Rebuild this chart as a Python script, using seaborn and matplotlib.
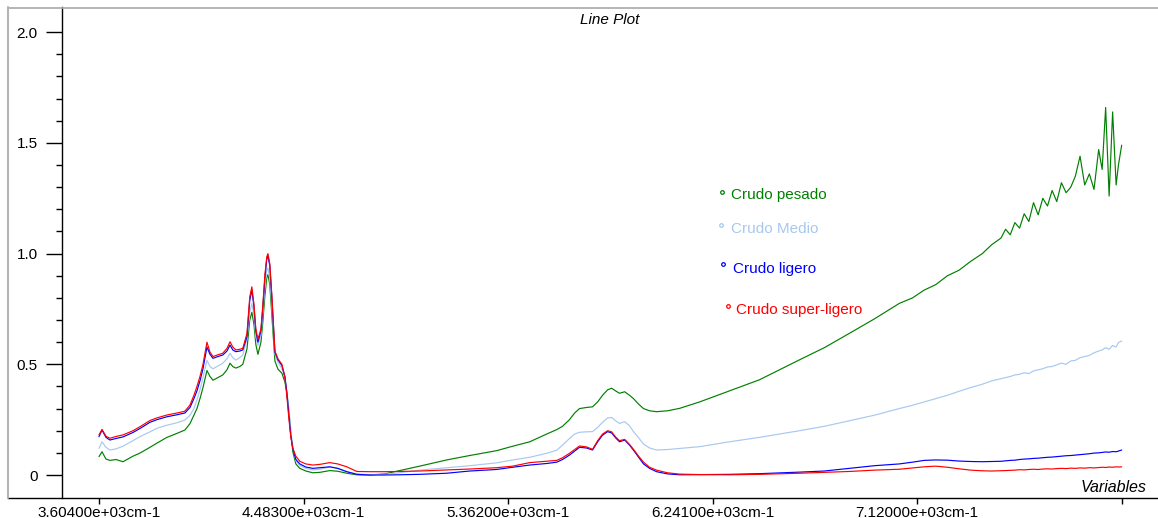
import matplotlib
matplotlib.use("Agg")
import matplotlib.pyplot as plt
from matplotlib.lines import Line2D
from matplotlib.ticker import FixedLocator
import pandas as pd
import seaborn as sns

# Wavenumber axis (cm-1)
wavenumber = [
    3604, 3617, 3634, 3651, 3677, 3707, 3750, 3780, 3823, 3853, 3896, 3939, 3973, 3995,
    4012, 4025, 4038, 4051, 4068, 4081, 4094, 4115, 4136, 4154, 4167, 4179, 4192, 4209, 4222,
    4240, 4252, 4261, 4270, 4278, 4287, 4300, 4308, 4317, 4325, 4330, 4338, 4347,
    4360, 4373, 4390, 4403, 4411, 4420, 4428, 4437, 4450, 4467,
    4493, 4523, 4553, 4596, 4630, 4669, 4712, 4768, 4832, 4896, 4982, 5098, 5197, 5313,
    5382, 5455, 5528, 5571, 5596, 5626, 5648, 5669, 5699, 5725, 5747,
    5768, 5790, 5807, 5824, 5841, 5863, 5884, 5901, 5923, 5944, 5970, 6000, 6047, 6099,
    6185, 6313, 6442, 6614, 6721, 6829, 6936, 7043, 7100, 7150, 7200, 7250, 7300, 7350, 7400, 7440,
    7480, 7500, 7520, 7540, 7560, 7580, 7600, 7620, 7640, 7660, 7680, 7700, 7720, 7740, 7760,
    7780, 7800, 7820, 7840, 7860, 7880, 7900, 7915, 7930, 7945, 7960, 7975, 7985, 7999,
]

crudo_pesado = [
    0.083, 0.105, 0.072, 0.066, 0.070, 0.060, 0.085, 0.099, 0.125, 0.144, 0.170, 0.188, 0.203, 0.232,
    0.270, 0.300, 0.345, 0.395, 0.472, 0.445, 0.428, 0.440, 0.452, 0.475, 0.505, 0.490, 0.483, 0.490, 0.500,
    0.570, 0.700, 0.735, 0.680, 0.590, 0.545, 0.600, 0.690, 0.810, 0.890, 0.905, 0.860, 0.720,
    0.515, 0.478, 0.460, 0.420, 0.375, 0.290, 0.190, 0.105, 0.050, 0.030,
    0.018, 0.010, 0.012, 0.020, 0.017, 0.008, 0.001, 0.000, 0.005, 0.020, 0.040, 0.068, 0.088, 0.110,
    0.130, 0.150, 0.185, 0.205, 0.220, 0.250, 0.280, 0.300, 0.305, 0.308, 0.330,
    0.360, 0.385, 0.392, 0.380, 0.369, 0.376, 0.360, 0.345, 0.320, 0.300, 0.290, 0.286, 0.290, 0.301,
    0.330, 0.380, 0.430, 0.520, 0.575, 0.640, 0.705, 0.775, 0.800, 0.835, 0.860, 0.900, 0.925, 0.965, 1.000, 1.040,
    1.070, 1.110, 1.085, 1.140, 1.115, 1.180, 1.145, 1.230, 1.175, 1.250, 1.215, 1.285, 1.235, 1.320, 1.275,
    1.300, 1.350, 1.440, 1.310, 1.360, 1.290, 1.470, 1.380, 1.660, 1.260, 1.640, 1.310, 1.400, 1.490,
]

crudo_medio = [
    0.120, 0.150, 0.125, 0.113, 0.118, 0.130, 0.155, 0.173, 0.195, 0.211, 0.225, 0.236, 0.248, 0.270,
    0.300, 0.340, 0.385, 0.440, 0.518, 0.490, 0.480, 0.492, 0.505, 0.525, 0.550, 0.530, 0.519, 0.530, 0.542,
    0.615, 0.735, 0.775, 0.720, 0.625, 0.585, 0.630, 0.730, 0.850, 0.925, 0.935, 0.890, 0.760,
    0.545, 0.510, 0.480, 0.440, 0.380, 0.300, 0.210, 0.125, 0.065, 0.042,
    0.030, 0.023, 0.026, 0.036, 0.030, 0.015, 0.004, 0.002, 0.003, 0.010, 0.022, 0.033, 0.042, 0.055,
    0.068, 0.080, 0.098, 0.112, 0.135, 0.165, 0.185, 0.193, 0.195, 0.196, 0.215,
    0.238, 0.258, 0.260, 0.245, 0.233, 0.241, 0.222, 0.196, 0.168, 0.140, 0.122, 0.113, 0.115, 0.120,
    0.128, 0.150, 0.170, 0.200, 0.220, 0.245, 0.270, 0.300, 0.315, 0.330, 0.345, 0.360, 0.378, 0.395, 0.410, 0.425,
    0.435, 0.440, 0.445, 0.452, 0.455, 0.462, 0.458, 0.470, 0.475, 0.480, 0.488, 0.490, 0.498, 0.505, 0.500,
    0.515, 0.518, 0.530, 0.535, 0.540, 0.552, 0.560, 0.565, 0.575, 0.568, 0.585, 0.578, 0.598, 0.605,
]

crudo_ligero = [
    0.173, 0.203, 0.170, 0.158, 0.165, 0.172, 0.192, 0.210, 0.238, 0.250, 0.263, 0.272, 0.280, 0.305,
    0.345, 0.380, 0.425, 0.480, 0.578, 0.545, 0.527, 0.535, 0.542, 0.560, 0.587, 0.565, 0.557, 0.560, 0.565,
    0.625, 0.790, 0.835, 0.760, 0.650, 0.600, 0.650, 0.755, 0.890, 0.975, 0.990, 0.945, 0.800,
    0.555, 0.520, 0.495, 0.445, 0.375, 0.270, 0.180, 0.120, 0.070, 0.050,
    0.036, 0.030, 0.033, 0.037, 0.030, 0.015, 0.003, 0.000, 0.000, 0.001, 0.003, 0.008, 0.018, 0.025,
    0.035, 0.045, 0.052, 0.058, 0.070, 0.090, 0.108, 0.125, 0.122, 0.113, 0.150,
    0.180, 0.196, 0.190, 0.168, 0.150, 0.158, 0.135, 0.112, 0.080, 0.050, 0.030, 0.015, 0.005, 0.001,
    0.002, 0.003, 0.006, 0.013, 0.018, 0.030, 0.042, 0.050, 0.058, 0.066, 0.068, 0.067, 0.063, 0.061, 0.060, 0.061,
    0.062, 0.064, 0.066, 0.067, 0.070, 0.072, 0.073, 0.075, 0.076, 0.078, 0.080, 0.081, 0.083, 0.085, 0.087,
    0.088, 0.090, 0.092, 0.094, 0.096, 0.099, 0.100, 0.102, 0.104, 0.103, 0.106, 0.105, 0.108, 0.113,
]

crudo_super_ligero = [
    0.181, 0.206, 0.175, 0.166, 0.174, 0.181, 0.200, 0.218, 0.246, 0.258, 0.271, 0.280, 0.288, 0.316,
    0.360, 0.400, 0.445, 0.500, 0.600, 0.555, 0.535, 0.543, 0.550, 0.572, 0.602, 0.578, 0.565, 0.568, 0.572,
    0.640, 0.805, 0.850, 0.770, 0.660, 0.612, 0.660, 0.765, 0.905, 0.985, 1.000, 0.955, 0.810,
    0.560, 0.525, 0.500, 0.440, 0.360, 0.255, 0.175, 0.120, 0.085, 0.062,
    0.050, 0.045, 0.048, 0.056, 0.050, 0.037, 0.016, 0.015, 0.015, 0.016, 0.018, 0.023, 0.027, 0.033,
    0.040, 0.056, 0.062, 0.066, 0.078, 0.098, 0.115, 0.131, 0.127, 0.116, 0.155,
    0.185, 0.200, 0.195, 0.172, 0.155, 0.161, 0.138, 0.116, 0.085, 0.058, 0.035, 0.022, 0.010, 0.004,
    0.002, 0.001, 0.003, 0.008, 0.012, 0.016, 0.022, 0.026, 0.032, 0.037, 0.040, 0.035, 0.028, 0.022, 0.019, 0.018,
    0.019, 0.020, 0.021, 0.022, 0.024, 0.023, 0.025, 0.026, 0.025, 0.027, 0.028, 0.027, 0.029, 0.030, 0.029,
    0.031, 0.030, 0.032, 0.031, 0.033, 0.032, 0.034, 0.035, 0.034, 0.036, 0.035, 0.037, 0.036, 0.037,
]

series_names = ["Crudo pesado", "Crudo Medio", "Crudo ligero", "Crudo super-ligero"]
series_colors = ["#008000", "#a8c8f0", "#0000ff", "#ff0000"]
series_values = [crudo_pesado, crudo_medio, crudo_ligero, crudo_super_ligero]

x_tick_values = [3604, 4483, 5362, 6241, 7120, 7999]
x_tick_labels = ["3.60400e+03cm-1", "4.48300e+03cm-1", "5.36200e+03cm-1",
                 "6.24100e+03cm-1", "7.12000e+03cm-1", ""]
y_tick_values = [0, 0.5, 1.0, 1.5, 2.0]
y_tick_labels = ["0", "0.5", "1.0", "1.5", "2.0"]
y_minor_values = [0.1, 0.2, 0.3, 0.4, 0.6, 0.7, 0.8, 0.9, 1.1, 1.2, 1.3, 1.4,
                  1.6, 1.7, 1.8, 1.9]

sns.set_style("white")
plt.rcParams["font.family"] = ["Liberation Sans", "DejaVu Sans"]

df = pd.concat(
    [pd.DataFrame({"wavenumber": wavenumber, "absorbance": vals, "muestra": name})
     for name, vals in zip(series_names, series_values)],
    ignore_index=True,
)

W, H = 1158, 518
fig = plt.figure(figsize=(W / 100, H / 100), dpi=100)
ax = fig.add_axes([8 / W, 1 - 497.5 / H, 1150 / W, 490 / H])

sns.lineplot(
    data=df, x="wavenumber", y="absorbance", hue="muestra",
    hue_order=series_names, palette=dict(zip(series_names, series_colors)),
    estimator=None, sort=False, legend=False, linewidth=0.85, ax=ax,
)

ax.set_xlim(3213, 8155)
ax.set_ylim(-0.1016, 2.1116)
ax.set_xlabel("")
ax.set_ylabel("")

# axes frame: y axis sits inside the panel, grey top border
ax.spines["left"].set_position(("data", 3445))
ax.spines["left"].set_color("black")
ax.spines["left"].set_linewidth(1.0)
ax.spines["bottom"].set_color("black")
ax.spines["bottom"].set_linewidth(1.0)
ax.spines["right"].set_visible(False)
ax.spines["top"].set_color("#a8a8a8")
ax.spines["top"].set_linewidth(1.2)

ax.set_xticks(x_tick_values)
ax.set_xticklabels(x_tick_labels)
ax.set_yticks(y_tick_values)
ax.set_yticklabels(y_tick_labels)
ax.yaxis.set_minor_locator(FixedLocator(y_minor_values))

ax.tick_params(axis="x", which="major", bottom=True, direction="out", length=4,
               width=1, pad=2, labelsize=11, colors="black")
ax.tick_params(axis="y", which="major", left=True, direction="out", length=11.5,
               width=1, pad=6, labelsize=11, colors="black")
ax.tick_params(axis="y", which="minor", left=True, direction="out", length=4.5,
               width=1, colors="black")

# grey left border of the panel
fig.add_artist(Line2D([8 / W, 8 / W], [1 - 7 / H, 1 - 498 / H],
                      color="#b4b4b4", lw=1.5, transform=fig.transFigure))

fig.text(610 / W, 1 - 20 / H, "Line Plot", ha="center", va="center",
         style="italic", fontsize=11, color="black")
fig.text(1146 / W, 1 - 488 / H, "Variables", ha="right", va="center",
         style="italic", fontsize=11.5, color="black")

# series labels with small ring markers
legend_marker_pos = [(722, 192), (721, 225), (723, 264), (728, 306)]
legend_text_pos = [(731, 195), (731, 229), (733, 269), (736, 310)]
for name, color, (mx, my), (tx, ty) in zip(series_names, series_colors,
                                           legend_marker_pos, legend_text_pos):
    fig.add_artist(Line2D([mx / W], [1 - my / H], marker="o", markersize=2.6,
                          markerfacecolor="none", markeredgecolor=color,
                          markeredgewidth=0.9, linestyle="none",
                          transform=fig.transFigure))
    fig.text(tx / W, 1 - ty / H, name, ha="left", va="center", fontsize=11,
             color=color)

fig.savefig("out.png", dpi=100)
